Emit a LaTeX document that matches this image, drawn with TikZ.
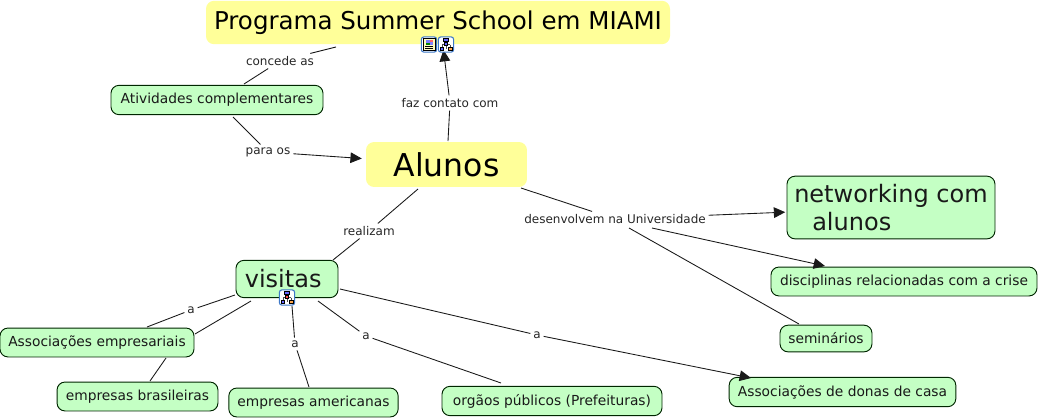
\documentclass[tikz,border=0pt]{standalone}
\usepackage{fontspec}
\setmainfont{DejaVu Sans}
\usetikzlibrary{arrows.meta}
\definecolor{conceptgreen}{HTML}{C4FFC4}
\definecolor{topicyellow}{HTML}{FFFF99}
\definecolor{iconblue}{HTML}{3C78C8}
\tikzstyle{concept} = [rectangle, draw=black!85!green, line width=0.7pt, fill=conceptgreen, rounded corners=6pt, text=black!90, inner sep=0pt, align=left]
\tikzstyle{small} = [font=\fontsize{10.35}{12}\selectfont]
\tikzstyle{large} = [font=\fontsize{18}{21.5}\selectfont]
\tikzstyle{topic} = [rectangle, fill=topicyellow, rounded corners=6pt, text=black, inner sep=0pt]
\tikzstyle{phrase} = [inner sep=2pt, text=black!85, font=\fontsize{9}{11}\selectfont]
\tikzstyle{line} = [draw, line width=0.65pt, black!90]
\tikzstyle{arrowline} = [line, -{Triangle[length=8.5pt,width=8pt]}]
\tikzstyle{iconbox} = [rectangle, draw=iconblue, fill=white, rounded corners=2pt, minimum size=11.5pt, inner sep=0pt, line width=0.8pt]
% small glyphs inside the icon boxes
\newcommand{\mapglyph}[2]{
	\begin{scope}[shift={(#1)}, line width=0.4pt]
		\draw [black!70] (0,-3) -- (0,4) (-4,0) -- (4,0) (-4,0) -- (-4,3) (4,0) -- (4,3);
		\draw [black, fill=blue!60] (-2.5,-6) rectangle (2.5,-3);
		\draw [black, fill=#2] (-1.5,-2) rectangle (1.5,1);
		\draw [black, fill=blue!60] (-6,3) rectangle (-2.5,6);
		\draw [black, fill=orange!70] (2.5,3) rectangle (6,6);
	\end{scope}
}
\newcommand{\docglyph}[1]{
	\begin{scope}[shift={(#1)}, line width=0.5pt]
		\draw [black, fill=yellow!25] (-6,-6) rectangle (6,6);
		\fill [blue!50] (-3,-5) rectangle (4,0);
		\fill [green!50!black] (-3,-2) rectangle (1,0);
		\fill [red!60] (1,-5) rectangle (4,-3);
		\draw [black] (-4,2) -- (4,2) (-4,4) -- (4,4);
	\end{scope}
}

\begin{document}
\begin{tikzpicture}[x=0.75pt, y=-0.75pt]
		\useasboundingbox (0,0) rectangle (1040,419);
		\node [topic, minimum width=348pt, minimum height=32.5pt, font=\fontsize{18.4}{22}\selectfont] (programa) at (438,22.5) {\raisebox{2.2pt}{Programa Summer School em MIAMI}};
		\node [topic, minimum width=120.7pt, minimum height=33.7pt, font=\fontsize{23.6}{28}\selectfont] (alunos) at (446.5,164.5) {Alunos};
		\node [concept, small, minimum width=159pt, minimum height=22pt] (atividades) at (217,100) {\raisebox{1pt}{Atividades complementares}};
		\node [concept, large, minimum width=156pt, minimum height=47pt] (networking) at (891,207.5) {networking com\\\hspace*{13.5pt}alunos};
		\node [concept, small, minimum width=199.5pt, minimum height=21.7pt] (disciplinas) at (904,281.5) {disciplinas relacionadas com a crise};
		\node [concept, small, minimum width=69pt, minimum height=20pt] (seminarios) at (826,338.5) {seminários};
		\node [concept, small, minimum width=170pt, minimum height=22pt] (donas) at (842.5,392) {Associações de donas de casa};
		\node [concept, large, minimum width=76.5pt, minimum height=28pt] (visitas) at (287,279) {visitas\ };
		\node [concept, small, minimum width=145.5pt, minimum height=21.7pt] (empresariais) at (97,342.5) {Associações empresariais};
		\node [concept, small, minimum width=120.7pt, minimum height=21.7pt] (brasileiras) at (137.5,396.5) {empresas brasileiras};
		\node [concept, small, minimum width=127pt, minimum height=21.7pt] (americanas) at (313.5,402.5) {empresas americanas};
		\node [concept, small, minimum width=165pt, minimum height=22pt] (orgaos) at (552,401) {orgãos públicos (Prefeituras)};

		\node [phrase] (concede) at (280,61) {concede as};
		\node [phrase] (parao) at (268,152) {para os};
		\node [phrase] (contato) at (450,103) {faz contato com};
		\node [phrase] (realizam) at (369,231) {realizam};
		\node [phrase] (desenvolvem) at (615,219) {desenvolvem na Universidade};
		\node [phrase] (a1) at (191,310) {a};
		\node [phrase] (a2) at (295,344) {a};
		\node [phrase] (a3) at (366,336) {a};
		\node [phrase] (a4) at (537,335) {a};

		\coordinate (p1) at (336,47);
		\coordinate (p2) at (244,84);
		\path [line] (concede) -- (p1);
		\path [line] (concede) -- (p2);
		\coordinate (a0) at (233,117);
		\path [line] (a0) -- (parao);
		\path [arrowline] (parao) -- ([xshift=-3pt,yshift=4.5pt]alunos.west);
		\coordinate (c0) at (448,141);
		\path [line] (c0) -- (contato);
		\coordinate (t0) at (443.5,50);
		\path [arrowline] (contato) -- (t0);
		\coordinate (r0) at (418,189);
		\coordinate (r1) at (333,260);
		\path [line] (r0) -- (realizam);
		\path [line] (realizam) -- (r1);
		\coordinate (d0) at (521,188);
		\path [line] (d0) -- (desenvolvem);
		\path [arrowline] (desenvolvem) -- ([xshift=-1pt,yshift=-3.5pt]networking.west);
		\coordinate (d1) at (652,228);
		\coordinate (d2) at (825,266);
		\coordinate (d3) at (629,228);
		\coordinate (d4) at (799,324);
		\path [arrowline] (d1) -- (d2);
		\path [line] (d3) -- (d4);
		\coordinate (v1) at (235,295);
		\coordinate (e1) at (147,327);
		\path [line] (v1) -- (a1);
		\path [line] (a1) -- (e1);
		\coordinate (v2) at (251,301);
		\coordinate (e2) at (195,334);
		\path [line] (v2) -- (e2);
		\coordinate (e3) at (150,381);
		\coordinate (e4) at (166,358);
		\path [line] (e3) -- (e4);
		\coordinate (v3) at (292,306);
		\coordinate (e5) at (309,387);
		\path [line] (v3) -- (a2);
		\path [line] (a2) -- (e5);
		\coordinate (v4) at (318,301);
		\coordinate (e6) at (501,383);
		\path [line] (v4) -- (a3);
		\path [line] (a3) -- (e6);
		\coordinate (v5) at (340,289);
		\coordinate (e7) at (751,378);
		\path [line] (v5) -- (a4);
		\path [arrowline] (a4) -- (e7);

		\node [iconbox] (icondoc) at (429,44.5) {};
		\node [iconbox] (iconmap) at (446,44.5) {};
		\node [iconbox] (iconvisitas) at (287,297.5) {};
		\docglyph{icondoc.center}
		\mapglyph{iconmap.center}{blue!60}
		\mapglyph{iconvisitas.center}{red!70}
		\end{tikzpicture}
\end{document}
